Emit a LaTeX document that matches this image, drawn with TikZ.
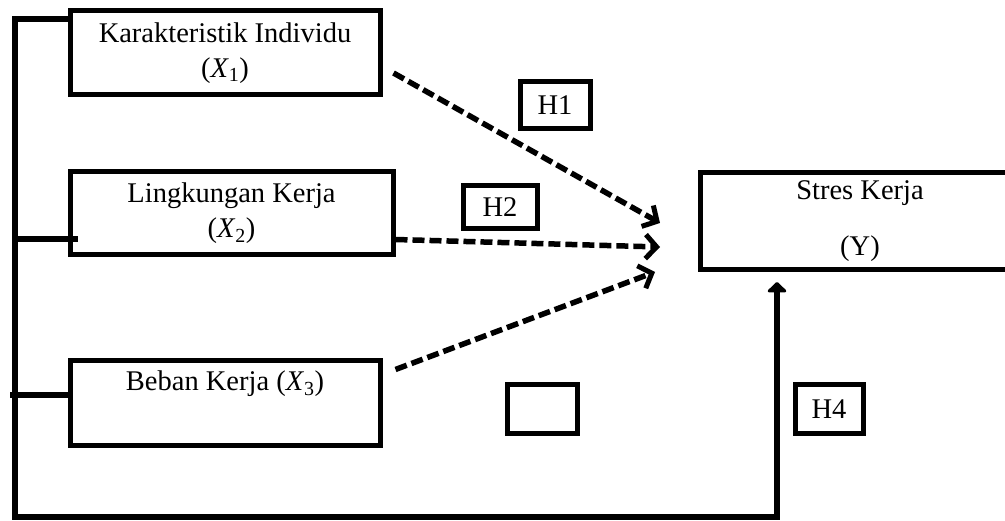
\documentclass[tikz,border=0pt]{standalone}
\usepackage{fontspec}
\setmainfont{Liberation Serif}
\usetikzlibrary{arrows.meta}
\begin{document}
\begin{tikzpicture}[x=1pt,y=-1pt,
  varbox/.style={draw,line width=5pt,inner sep=0pt,align=center,font=\fontsize{28.5}{35}\selectfont},
  hbox/.style={draw,line width=5pt,inner sep=0pt,font=\fontsize{28.5}{32}\selectfont},
  bus/.style={line width=6.5pt},
  dasharrow/.style={line width=5.5pt,dash pattern=on 12pt off 5pt,-{Straight Barb[length=11pt,width=24pt,line width=5pt]}}]
\useasboundingbox (0,0) rectangle (1005,521);
\node[varbox,minimum width=310pt,minimum height=84pt] (x1) at (225,53) {Karakteristik Individu\\(\textit{X}\textsubscript{1})};
\node[varbox,minimum width=323pt,minimum height=83pt] (x2) at (231.5,213.5) {Lingkungan Kerja\\(\textit{X}\textsubscript{2})};
\node[varbox,minimum width=310pt,minimum height=85pt] (x3) at (225,403.5) {Beban Kerja (\textit{X}\textsubscript{3})\\\strut};
\node[varbox,minimum width=320pt,minimum height=97pt,align=center,font=\fontsize{28.5}{56}\selectfont] (y) at (860,221.5) {Stres Kerja\\(Y)};
\node[hbox,minimum width=70pt,minimum height=47pt] (h1) at (555,105.5) {H1};
\node[hbox,minimum width=74pt,minimum height=43pt] (h2) at (500,207.5) {H2};
\node[hbox,minimum width=70pt,minimum height=49pt] (h3) at (542,409.5) {};
\node[hbox,minimum width=68pt,minimum height=49pt] (h4) at (829,409.5) {H4};
\coordinate (b1) at (15,19);
\coordinate (b4) at (15,517);
\coordinate (b5) at (777,517);
\draw[bus] (x1.west|-b1) -- (b1) -- (b4) -- (b5) -- (777,300);
\draw[line width=6.5pt,line join=round,-{Triangle[length=11pt,width=22pt,round]}] (777,320) -- (777,282);
\draw[bus] (15,239) -- (78,239);
\draw[bus] (10,395) -- (73,395);
\draw[dasharrow] (x1.east)++(11,20) -- (660,223);
\draw[dasharrow] ([yshift=-26pt]x2.east) -- (660,247);
\draw[dasharrow] ([xshift=13pt,yshift=34pt]x3.east) -- (655,272);
\end{tikzpicture}
\end{document}
